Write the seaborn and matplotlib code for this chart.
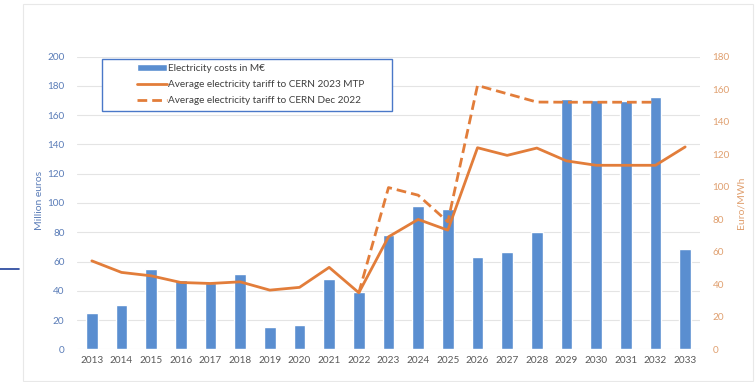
import numpy as np
import pandas as pd
import matplotlib
matplotlib.use("Agg")
import matplotlib.pyplot as plt
from matplotlib.patches import Rectangle
from matplotlib.lines import Line2D
import seaborn as sns

years = [str(y) for y in range(2013, 2034)]
costs = [25, 30.5, 55, 47.3, 45, 51.7, 15.4, 16.8, 47.8, 39,
         78, 98, 95.8, 63.2, 66.4, 80, 171.3, 170.2, 170, 172.4, 68.7]
tariff_mtp = [54.4, 47.3, 45.2, 41.1, 40.5, 41.5, 36.4, 38.1, 50.4, 34.8,
              69.2, 79.9, 73.3, 124, 119.3, 123.8, 115.9, 113.2, 113.2, 113.2, 124.5]
tariff_dec22 = [np.nan] * 9 + [34.8, 99.5, 94.8, 78.4, 162.3, 157.2, 152.1,
                               152, 152, 152, 152, np.nan]

label_bar = "Electricity costs in M€"
label_mtp = "Average electricity tariff to CERN 2023 MTP"
label_dec = "Average electricity tariff to CERN Dec 2022"

sns.set_theme(style="white")
plt.rcParams["font.family"] = ["Lato", "DejaVu Sans"]

BLUE = "#5A8ED0"
ORANGE = "#E27D3A"
LBLUE = "#5B7DB8"
LORANGE = "#E0A070"
GRAY = "#595959"

fig = plt.figure(figsize=(7.56, 3.82), dpi=100)
W, H = 756, 382
x0, x1, ytop, ybot = 77, 700, 56.7, 349.3
ax = fig.add_axes([x0 / W, 1 - ybot / H, (x1 - x0) / W, (ybot - ytop) / H])

df = pd.DataFrame({"year": years, "cost": costs,
                   "mtp": tariff_mtp, "dec": tariff_dec22})
df["pos"] = np.arange(len(years))

sns.barplot(data=df, x="year", y="cost", color=BLUE, width=0.4,
            saturation=1, ax=ax, label=label_bar, zorder=2)
ax.set_xlim(-0.5, len(years) - 0.5)
ax.set_ylim(0, 200)
ax.set_yticks(np.arange(0, 201, 20))
ax.grid(axis="y", color="#E4E4E4", linewidth=0.8, zorder=0)
ax.set_axisbelow(True)
for s in ax.spines.values():
    s.set_visible(False)
ax.tick_params(axis="y", length=0, pad=9, labelsize=7.2, labelcolor=LBLUE)
ax.tick_params(axis="x", length=0, pad=5, labelsize=7.2, labelcolor=GRAY)
ax.set_xlabel("")
ax.set_ylabel("")

ax2 = ax.twinx()
sns.lineplot(data=df, x="pos", y="mtp", color=ORANGE, linewidth=2.0,
             ax=ax2, label=label_mtp, zorder=3)
sns.lineplot(data=df, x="pos", y="dec", color=ORANGE, linewidth=2.0,
             ax=ax2, label=label_dec, zorder=3)
ax2.lines[-1].set_dashes([3.5, 1.8])
ax2.set_ylim(0, 180)
ax2.set_yticks(np.arange(0, 181, 20))
ax2.set_xlim(-0.5, len(years) - 0.5)
for s in ax2.spines.values():
    s.set_visible(False)
ax2.tick_params(axis="y", length=0, pad=9, labelsize=7.2, labelcolor=LORANGE)
ax2.set_xlabel("")
ax2.set_ylabel("")
ax2.grid(False)

h1, l1 = ax.get_legend_handles_labels()
h2, l2 = ax2.get_legend_handles_labels()
if ax.get_legend():
    ax.get_legend().remove()
leg = ax2.legend(h1 + h2, l1 + l2, loc="upper left",
                 bbox_to_anchor=((134 - x0) / (x1 - x0), (ybot - 61) / (ybot - ytop)),
                 fontsize=7.2, frameon=False, handlelength=3.0,
                 handleheight=0.6, borderpad=0.3, labelspacing=0.72,
                 handletextpad=0.15, borderaxespad=0)
for t in leg.get_texts():
    t.set_color("#404040")
leg.set_zorder(10)

ax2.add_patch(Rectangle((102 / W, 1 - 111 / H), (392 - 102) / W, (111 - 59) / H,
                        transform=fig.transFigure, facecolor="white",
                        edgecolor="#4A78C8", linewidth=1.0, zorder=9,
                        clip_on=False))

fig.text(39 / W, 1 - 200 / H, "Million euros", rotation=90, ha="center",
         va="center", fontsize=7.5, color=LBLUE)
fig.text(741 / W, 1 - 203 / H, "Euro/MWh", rotation=90, ha="center",
         va="center", fontsize=7.5, color=LORANGE)

fig.patches.append(Rectangle((23 / W, 1 - 381 / H), (753 - 23) / W, (381 - 4) / H,
                             transform=fig.transFigure, fill=False,
                             edgecolor="#E8E8E8", linewidth=0.8))
fig.lines.append(Line2D([0, 19 / W], [1 - 269 / H, 1 - 269 / H],
                        transform=fig.transFigure, color="#1F3F9A", linewidth=1.2))

fig.savefig("out.png", dpi=100)
